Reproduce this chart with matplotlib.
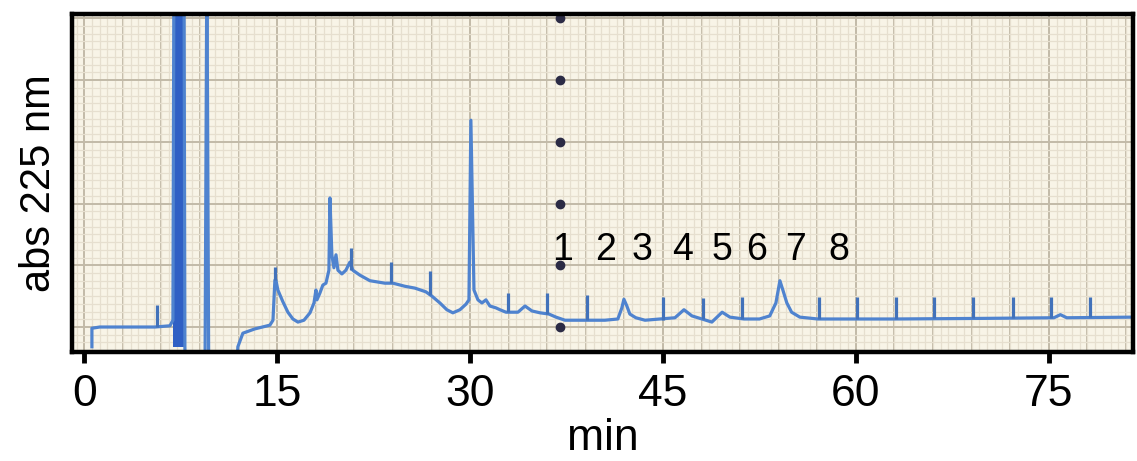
import numpy as np
import matplotlib
matplotlib.use("Agg")
import matplotlib.pyplot as plt
from matplotlib.ticker import MultipleLocator

# trace (time in min, absorbance in arbitrary units)
# values below the axis (-1) or above the top (6) are the off-scale pen strokes
trace_t = [0.59, 0.59, 1.2, 3.5, 5.5, 6.66, 6.89, 6.97, 7.75, 7.82, 7.9, 9.38, 9.53, 9.68,
           11.79, 11.94, 12.33, 13.27, 14.43, 14.67, 14.82, 14.9, 15.05, 15.44, 15.83, 16.22,
           16.61, 17.08, 17.55, 17.86, 18.01, 18.09, 18.32, 18.55, 18.79, 19.02, 19.1, 19.25,
           19.41, 19.57, 19.72, 20.03, 20.34, 20.65, 20.88, 21.43, 22.21, 23.37, 24.0, 24.93,
           25.71, 26.56, 27.03, 27.65, 28.19, 28.66, 29.21, 29.68, 29.91, 30.06, 30.3, 30.61,
           30.92, 31.23, 31.54, 32.01, 32.32, 32.79, 33.1, 33.72, 34.27, 34.81, 35.44, 36.13,
           36.68, 37.38, 38.16, 40.48, 41.49, 41.8, 41.96, 42.19, 42.42, 42.89, 43.6, 45.93,
           46.63, 47.25, 48.03, 48.8, 49.6, 50.2, 51.3, 52.5, 53.3, 53.78, 54.09, 54.32,
           54.63, 55.0, 55.64, 57.04, 63.0, 70.0, 75.4, 75.9, 76.4, 81.5]
trace_a = [-0.32, -0.02, 0.0, 0.0, 0.0, 0.02, 0.11, 6.0, 6.0, -0.32, -1.0, -1.0, 6.0, -1.0,
           -1.0, -0.32, -0.10, -0.03, 0.03, 0.11, 0.76, 0.76, 0.60, 0.41, 0.24, 0.13,
           0.08, 0.11, 0.23, 0.39, 0.60, 0.44, 0.55, 0.68, 0.71, 0.92, 2.09, 1.17,
           0.96, 1.17, 0.92, 0.86, 0.92, 1.05, 0.92, 0.84, 0.75, 0.71, 0.71, 0.66,
           0.63, 0.57, 0.50, 0.39, 0.28, 0.23, 0.28, 0.37, 0.44, 3.35, 0.60, 0.44,
           0.39, 0.44, 0.34, 0.31, 0.28, 0.24, 0.24, 0.24, 0.34, 0.26, 0.23, 0.21,
           0.16, 0.11, 0.11, 0.11, 0.13, 0.31, 0.45, 0.34, 0.21, 0.15, 0.11, 0.15,
           0.28, 0.18, 0.13, 0.08, 0.24, 0.16, 0.13, 0.13, 0.18, 0.39, 0.75, 0.60,
           0.39, 0.24, 0.16, 0.13, 0.13, 0.14, 0.15, 0.20, 0.15, 0.16]

# fraction-collector event marks (pen ticks)
mark_t = [5.65, 14.82, 20.73, 23.84, 26.87, 32.94, 35.98, 39.08, 44.99, 48.1, 51.14,
          57.12, 60.08, 63.1, 66.1, 69.1, 72.2, 75.2, 78.2]
mark_base = [0.0, 0.76, 0.92, 0.71, 0.52, 0.24, 0.21, 0.11, 0.11, 0.13, 0.13,
             0.13, 0.13, 0.13, 0.14, 0.14, 0.15, 0.15, 0.16]
mark_top = [0.36, 0.97, 1.28, 1.05, 0.91, 0.55, 0.55, 0.52, 0.49, 0.47, 0.49,
            0.49, 0.49, 0.49, 0.49, 0.49, 0.49, 0.49, 0.49]

# saturated solvent-front region
sat_t = [6.9, 7.8]

# fraction numbers
frac_labels = ["1", "2", "3", "4", "5", "6", "7", "8"]
frac_t = [37.2, 40.5, 43.4, 46.5, 49.6, 52.3, 55.3, 58.7]
frac_a = 1.25

# recorder dots
dot_t = 37.0
dot_a = [0, 1, 2, 3, 4, 5]

xticks = [0, 15, 30, 45, 60, 75]

plt.rcParams["font.family"] = ["Liberation Sans", "DejaVu Sans"]

fig = plt.figure(figsize=(11.37, 4.61), dpi=100)
ax = fig.add_axes([0.0633, 0.2364, 0.9332, 0.7332])
ax.set_facecolor("#f8f4e7")

ax.set_xlim(-0.96, 81.55)
ax.set_ylim(-0.405, 5.07)

# graph paper
ax.xaxis.set_minor_locator(MultipleLocator(0.6))
ax.yaxis.set_minor_locator(MultipleLocator(0.125))
ax.yaxis.set_major_locator(MultipleLocator(1))
ax.grid(which="minor", color="#e6dfcf", lw=0.9)
ax.grid(which="major", axis="y", color="#c2baa8", lw=1.4)
for g in np.arange(0, 82, 3):
    ax.axvline(g, color="#c2baa8", lw=1.4, zorder=0.5)
ax.set_axisbelow(True)

col = "#4f83cf"
ax.fill_between(sat_t, -0.32, 6, color="#2f5fc4", lw=0)
ax.plot(trace_t, trace_a, color=col, lw=2.3, solid_joinstyle="round")
ax.vlines(mark_t, mark_base, mark_top, color="#4272ba", lw=2.3)
ax.plot([dot_t] * len(dot_a), dot_a, "o", color="#2b2b45", ms=6, clip_on=True)

for lab, t in zip(frac_labels, frac_t):
    ax.text(t, frac_a, lab, ha="center", va="center", fontsize=27, color="black")

ax.set_xticks(xticks)
ax.set_xticklabels([str(x) for x in xticks])
ax.tick_params(axis="x", which="major", length=8, width=3.5, direction="out",
               labelsize=32, pad=8)
ax.tick_params(axis="both", which="minor", length=0)
ax.tick_params(axis="y", which="major", length=0, labelleft=False)

for s in ax.spines.values():
    s.set_linewidth(3.2)
    s.set_color("black")

ax.set_xlabel("min", fontsize=32, labelpad=2)
ax.set_ylabel("abs 225 nm", fontsize=30, labelpad=6)

fig.savefig("out.png", dpi=100, facecolor="white")
